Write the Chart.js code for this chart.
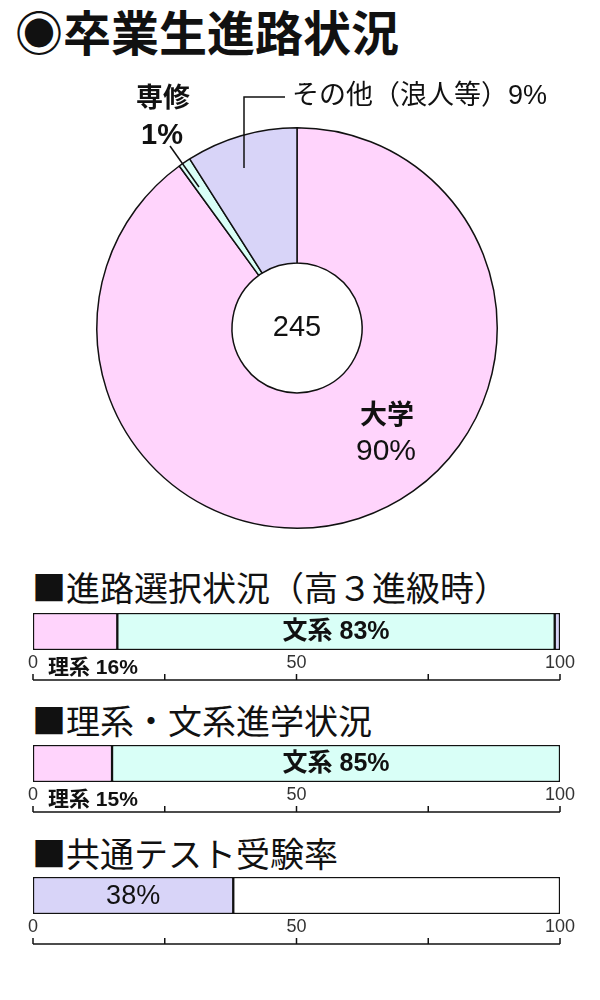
<!DOCTYPE html>
<html lang="ja">
<head>
<meta charset="utf-8">
<script src="https://cdn.jsdelivr.net/npm/chart.js@4.4.1/dist/chart.umd.min.js"></script>
<style>
  body { margin: 0; background: #fff; }
  #page { position: relative; width: 600px; height: 1000px; overflow: hidden; }
  .head { position: absolute; font-family: "Noto Sans CJK JP", sans-serif; color: #111; white-space: nowrap; line-height: 1; }
  #title { left: 15px; top: 6px; font-size: 48px; font-weight: bold; }
  .sub { left: 32px; font-size: 34px; }
  canvas { position: absolute; left: 0; }
</style>
</head>
<body>
<div id="page">
  <div id="title" class="head">◉卒業生進路状況</div>
  <div class="head sub" style="top:570px">■進路選択状況（高３進級時）</div>
  <div class="head sub" style="top:703px">■理系・文系進学状況</div>
  <div class="head sub" style="top:836px">■共通テスト受験率</div>

  <canvas id="pieChart" width="600" height="500" style="top:60px;width:600px;height:500px"></canvas>
  <canvas id="choiceChart" width="600" height="90" style="top:600px;width:600px;height:90px"></canvas>
  <canvas id="entryChart" width="600" height="90" style="top:732px;width:600px;height:90px"></canvas>
  <canvas id="testChart" width="600" height="90" style="top:864px;width:600px;height:90px"></canvas>
</div>

<script>
// graduates
const pieLabels = ['大学', '専修', 'その他（浪人等）'];
const pieValues = [90, 1, 9];
const graduatesTotal = 245;

// course split bars
const courseLabels = ['理系', '文系', 'その他'];
const choiceValues = [16, 83, 1];
const entryValues = [15, 85];
const testLabels = ['受験', '未受験'];
const testValues = [38, 62];

// axis under each bar
const axisTicks = [0, 25, 50, 75, 100];
const axisTickLabels = ['0', '', '50', '', '100'];

const PINK = '#FFD4FC';
const CYAN = '#D9FFF7';
const LAVENDER = '#D8D4F8';
const INK = '#111';
const FONT = '"Liberation Sans", "Noto Sans CJK JP", sans-serif';

function text(ctx, str, x, y, size, bold, align) {
  ctx.font = (bold ? 'bold ' : '') + size + 'px ' + FONT;
  ctx.textAlign = align || 'center';
  ctx.textBaseline = 'middle';
  ctx.fillStyle = INK;
  ctx.fillText(str, x, y);
}

function line(ctx, pts) {
  ctx.beginPath();
  ctx.moveTo(pts[0][0], pts[0][1]);
  for (let i = 1; i < pts.length; i++) ctx.lineTo(pts[i][0], pts[i][1]);
  ctx.strokeStyle = INK;
  ctx.lineWidth = 1.5;
  ctx.stroke();
}

// ---- doughnut ----
const pieLabelPlugin = {
  id: 'pieLabels',
  afterDraw(chart) {
    const ctx = chart.ctx;
    const arc = chart.getDatasetMeta(0).data[0];
    const cx = arc.x, cy = arc.y;
    ctx.save();
    text(ctx, String(graduatesTotal), cx, cy, 29, false);
    text(ctx, pieLabels[0], cx + 90, cy + 89, 27, true);
    text(ctx, pieValues[0] + '%', cx + 89, cy + 124, 30, false);
    text(ctx, pieLabels[1], cx - 134, cy - 228, 27, true);
    text(ctx, pieValues[1] + '%', cx - 135, cy - 192, 29, true);
    line(ctx, [[cx - 127, cy - 182], [cx - 98, cy - 141]]);
    text(ctx, pieLabels[2] + pieValues[2] + '%', cx - 5, cy - 231, 27, false, 'left');
    line(ctx, [[cx - 12, cy - 231], [cx - 53, cy - 231], [cx - 53, cy - 160]]);
    ctx.restore();
  }
};

new Chart(document.getElementById('pieChart'), {
  type: 'doughnut',
  data: {
    labels: pieLabels,
    datasets: [{
      data: pieValues,
      backgroundColor: [PINK, CYAN, LAVENDER],
      borderColor: INK,
      borderWidth: 1.5
    }]
  },
  options: {
    responsive: false,
    animation: false,
    cutout: 65,
    layout: { padding: { top: 67, left: 96, right: 102, bottom: 31 } },
    plugins: { legend: { display: false }, tooltip: { enabled: false } }
  },
  plugins: [pieLabelPlugin]
});

// ---- stacked bars ----
function barChart(id, names, values, colors, labels) {
  const axisPlugin = {
    id: 'axis_' + id,
    afterDraw(chart) {
      const ctx = chart.ctx;
      const x = chart.scales.x;
      const bottom = chart.chartArea.bottom;
      const axisY = bottom + 30;
      ctx.save();
      line(ctx, [[x.getPixelForValue(axisTicks[0]), axisY], [x.getPixelForValue(axisTicks[axisTicks.length - 1]), axisY]]);
      axisTicks.forEach((t, i) => {
        const px = x.getPixelForValue(t);
        line(ctx, [[px, axisY], [px, axisY - 6]]);
        if (axisTickLabels[i]) {
          ctx.font = '18px ' + FONT;
          ctx.textAlign = 'center';
          ctx.textBaseline = 'middle';
          ctx.fillStyle = '#333';
          ctx.fillText(axisTickLabels[i], px, bottom + 13);
        }
      });
      // segment labels
      const meta = chart.data.datasets.map((d, i) => chart.getDatasetMeta(i).data[0]);
      labels.forEach(l => {
        const bar = meta[l.index];
        if (l.inside) {
          text(ctx, l.str, (bar.base + bar.x) / 2, bar.y + 1, l.size, l.bold);
        } else {
          text(ctx, l.str, x.getPixelForValue(0) + 15, bottom + 18, l.size, l.bold, 'left');
        }
      });
      ctx.restore();
    }
  };

  new Chart(document.getElementById(id), {
    type: 'bar',
    data: {
      labels: [''],
      datasets: values.map((v, i) => ({
        label: names[i],
        data: [v],
        backgroundColor: colors[i],
        borderColor: INK,
        borderWidth: 1.5,
        borderSkipped: false,
        categoryPercentage: 1,
        barPercentage: 1
      }))
    },
    options: {
      indexAxis: 'y',
      responsive: false,
      animation: false,
      layout: { padding: { top: 13, left: 33, right: 40, bottom: 40 } },
      scales: {
        x: { stacked: true, min: 0, max: 100, display: false },
        y: { stacked: true, display: false }
      },
      plugins: { legend: { display: false }, tooltip: { enabled: false } }
    },
    plugins: [axisPlugin]
  });
}

barChart('choiceChart', courseLabels, choiceValues, [PINK, CYAN, LAVENDER], [
  { index: 1, str: courseLabels[1] + ' ' + choiceValues[1] + '%', size: 25, bold: true, inside: true },
  { index: 0, str: courseLabels[0] + ' ' + choiceValues[0] + '%', size: 21, bold: true, inside: false }
]);
barChart('entryChart', courseLabels, entryValues, [PINK, CYAN], [
  { index: 1, str: courseLabels[1] + ' ' + entryValues[1] + '%', size: 25, bold: true, inside: true },
  { index: 0, str: courseLabels[0] + ' ' + entryValues[0] + '%', size: 21, bold: true, inside: false }
]);
barChart('testChart', testLabels, testValues, [LAVENDER, '#FFFFFF'], [
  { index: 0, str: testValues[0] + '%', size: 27, bold: false, inside: true }
]);
</script>
</body>
</html>
